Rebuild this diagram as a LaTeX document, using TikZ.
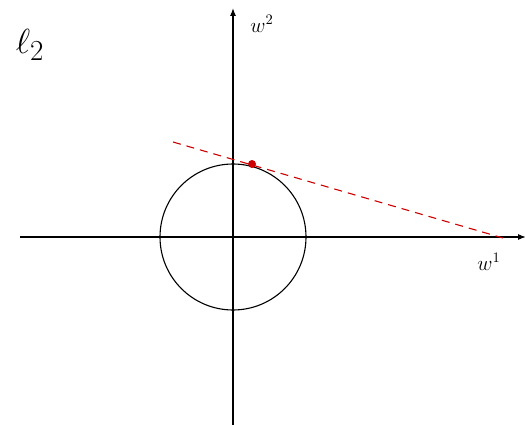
\documentclass[tikz,border=0pt]{standalone}
\usepackage{graphicx}
\usepackage{tikz}
\usetikzlibrary{arrows.meta}

\newcommand{\bigw}[1]{\scalebox{1.45}{\Large$#1$}}

\begin{document}
\begin{tikzpicture}[
      x=1pt, y=-1pt,
      axis/.style={-{Latex[length=8pt, width=6pt]}, line width=1.1pt},
      ball/.style={line width=1.1pt},
      cut/.style={red!80!black, line width=1.1pt, dash pattern=on 8pt off 6pt},
      lbl/.style={inner sep=0pt}
    ]
    \useasboundingbox (0,0) rectangle (525,425);

    % axes
    \coordinate (xl) at (20,237);
    \coordinate (xr) at (526,237);
    \coordinate (yb) at (233,425);
    \coordinate (yt) at (233,8);
    \coordinate (o) at (233,237);
    \draw[axis] (xl) -- (xr);
    \draw[axis] (yb) -- (yt);

    % unit ball
    \draw[ball] (o) circle[radius=73];

    % level line
    \coordinate (ls) at (173,142);
    \coordinate (le) at (503,238);
    \draw[cut] (ls) -- (le);
    \node[circle, fill=red!80!black, inner sep=0pt, minimum size=8pt] (pt) at (252,164) {};

    \node[lbl] (w2) at (262,24) {\bigw{w^2}};
    \node[lbl] (w1) at (489,262) {\bigw{w^1}};
    \node[lbl] (l2) at (30,45) {\scalebox{1.4}{\Huge$\ell_2$}};
  \end{tikzpicture}
\end{document}
